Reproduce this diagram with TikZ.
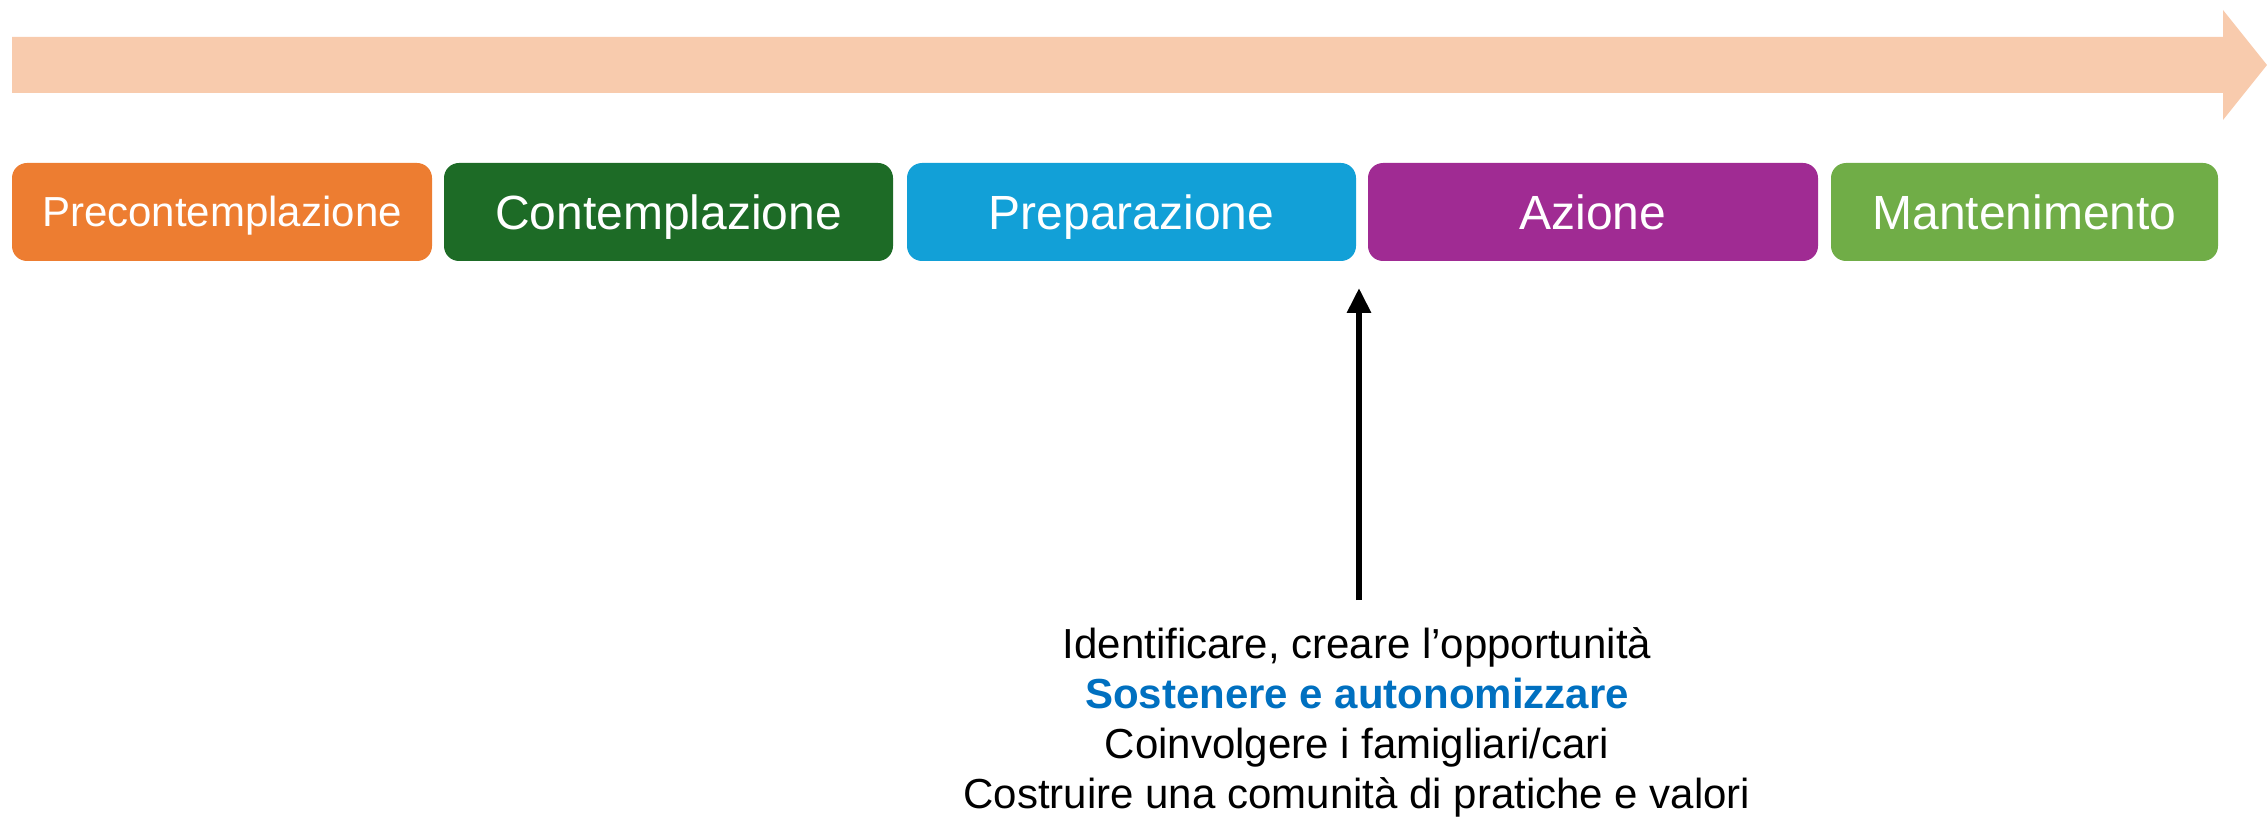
\documentclass[tikz,border=0pt]{standalone}
\usepackage{fontspec}
\setmainfont{Liberation Sans}
\usetikzlibrary{arrows.meta}
\definecolor{peach}{HTML}{F8CBAD}
\definecolor{stageorange}{HTML}{ED7D31}
\definecolor{stagedarkgreen}{HTML}{1D6B26}
\definecolor{stageblue}{HTML}{12A0D7}
\definecolor{stagepurple}{HTML}{A02B93}
\definecolor{stagegreen}{HTML}{70AD47}
\definecolor{keyblue}{HTML}{0070C0}
\begin{document}
\begin{tikzpicture}[x=0.5pt,y=-0.5pt,
    stage/.style={rounded corners=7.5pt,minimum height=49pt,inner sep=0pt,text=white,
      font=\fontsize{24}{28}\selectfont,text height=17.2pt,text depth=0pt},
    smallstage/.style={stage,font=\fontsize{21}{25}\selectfont,text height=15pt}]
  \useasboundingbox (0,0) rectangle (2267,818);
  \fill[peach] (12,37) -- (2223,37) -- (2223,10) -- (2267,65) -- (2223,120) -- (2223,93) -- (12,93) -- cycle;
  \node[smallstage,fill=stageorange,minimum width=210pt] (precontemplazione) at (222,212) {Precontemplazione};
  \node[stage,fill=stagedarkgreen,minimum width=224.5pt] (contemplazione) at (668.5,212) {Contemplazione};
  \node[stage,fill=stageblue,minimum width=224.5pt] (preparazione) at (1131.5,212) {Preparazione};
  \node[stage,fill=stagepurple,minimum width=225pt] (azione) at (1593,212) {Azione};
  \node[stage,fill=stagegreen,minimum width=193.5pt] (mantenimento) at (2024.5,212) {Mantenimento};
  \coordinate (arrowfoot) at (1359,600);
  \coordinate (arrowtip) at (1359,288);
  \draw[line width=3pt,-{Triangle[width=11.5pt,length=12.5pt]}] (arrowfoot) -- (arrowtip);
  \node[anchor=north,inner sep=0pt,align=center,font=\fontsize{21}{25}\selectfont] (interventi) at (1357,627)
    {Identificare, creare l’opportunità\\
     \textcolor{keyblue}{\textbf{Sostenere e autonomizzare}}\\
     Coinvolgere i famigliari/cari\\
     Costruire una comunità di pratiche e valori};
\end{tikzpicture}
\end{document}
